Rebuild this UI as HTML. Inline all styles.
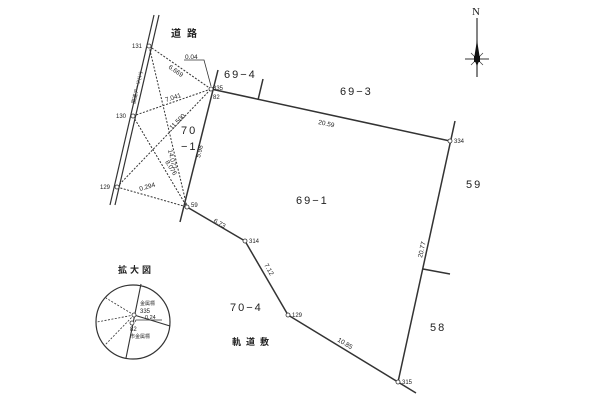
<!DOCTYPE html>
<html><head><meta charset="utf-8"><style>
html,body{margin:0;padding:0;background:#fff;}
svg{display:block;}
text{font-family:"Liberation Sans","Noto Sans CJK JP",sans-serif;fill:#222;}
.s{font-size:6px;}
.m{font-size:11px;letter-spacing:2px;}
.d{font-size:6.5px;}
</style></head><body>
<svg width="600" height="413" viewBox="0 0 600 413" xmlns="http://www.w3.org/2000/svg">
<g stroke="#333" fill="none">
<line x1="154" y1="15" x2="110" y2="205" stroke-width="1.2"/>
<line x1="159" y1="15" x2="115" y2="205" stroke-width="1.2"/>
<g stroke-dasharray="2,1.5" stroke-width="1">
<line x1="149" y1="46" x2="211" y2="89"/>
<line x1="133" y1="116" x2="211" y2="89"/>
<line x1="117" y1="187" x2="211" y2="89"/>
<line x1="149" y1="46" x2="187" y2="207"/>
<line x1="133" y1="116" x2="187" y2="207"/>
<line x1="117" y1="187" x2="187" y2="207"/>
</g>
<polyline points="184,60 204,60 211,86" stroke-width="0.8"/>
<g stroke-width="1.5">
<line x1="180" y1="222" x2="218" y2="70"/>
<line x1="211" y1="89" x2="450" y2="141"/>
<line x1="455" y1="121" x2="398" y2="382"/>
<line x1="416" y1="393" x2="288" y2="315"/>
<line x1="288" y1="315" x2="245" y2="241"/>
<line x1="245" y1="241" x2="187" y2="207"/>
<line x1="258" y1="100" x2="263" y2="79"/>
<line x1="423" y1="269" x2="450" y2="274"/>
</g>
<g fill="#fff" stroke-width="0.8">
<circle cx="149" cy="46" r="2"/><circle cx="133" cy="116" r="2"/><circle cx="117" cy="187" r="2"/>
<circle cx="211" cy="89" r="2"/><circle cx="187" cy="207" r="2"/><circle cx="245" cy="241" r="2"/>
<circle cx="288" cy="315" r="2"/><circle cx="398" cy="382" r="2"/><circle cx="450" cy="141" r="2"/>
</g>
<circle cx="133" cy="322" r="37" stroke-width="1.2"/>
<line x1="141" y1="284" x2="126" y2="358" stroke-width="1.1"/>
<line x1="134" y1="315" x2="170" y2="326" stroke-width="1.1"/>
<g stroke-dasharray="2,1.5" stroke-width="0.8">
<line x1="134" y1="315" x2="106" y2="298"/>
<line x1="134" y1="315" x2="97" y2="322"/>
<line x1="134" y1="315" x2="105" y2="345"/>
</g>
<polyline points="135,322 136,320 162,320" stroke-width="0.8"/>
<circle cx="134" cy="315" r="2" fill="#fff" stroke-width="0.8"/>
<circle cx="132" cy="323" r="2" fill="#fff" stroke-width="0.8"/>
<line x1="477" y1="18" x2="477" y2="77" stroke-width="1.2"/>
<line x1="465" y1="59" x2="489" y2="59" stroke-width="1"/>
<line x1="471" y1="53" x2="483" y2="65" stroke-width="0.6"/>
<line x1="483" y1="53" x2="471" y2="65" stroke-width="0.6"/>
</g>
<polygon points="477,40 480,59 477,66 474,59" fill="#111"/>
<rect x="474" y="56" width="6" height="6" fill="#111"/>
<text x="472" y="15" style="font-family:'Liberation Serif',serif;font-size:11px">N</text>
<text class="s" x="132" y="48">131</text>
<text class="s" x="116" y="118">130</text>
<text class="s" x="100" y="189">129</text>
<text class="s" x="213" y="90">335</text>
<text class="s" x="213" y="99">82</text>
<text class="s" x="191" y="207">59</text>
<text class="s" x="249" y="243">314</text>
<text class="s" x="292" y="317">129</text>
<text class="s" x="402" y="384">315</text>
<text class="s" x="454" y="143">334</text>
<text class="d" x="185" y="59">0.04</text>
<text class="d" transform="translate(168,68) rotate(35)">6.669</text>
<text class="d" transform="translate(166,102) rotate(-18)">7.041</text>
<text class="d" transform="translate(172,130) rotate(-45)">11.500</text>
<text class="d" transform="translate(165,162) rotate(58)">8.076</text>
<text class="d" transform="translate(168,150) rotate(77)">14.077</text>
<text class="d" transform="translate(140,191) rotate(-16)">0.294</text>
<text class="d" transform="translate(200,158) rotate(-76)">5.98</text>
<text class="d" x="318" y="124" transform="rotate(12,318,124)">20.59</text>
<text class="d" transform="translate(213,222) rotate(30)">6.73</text>
<text class="d" transform="translate(264,265) rotate(60)">7.12</text>
<text class="d" transform="translate(337,341) rotate(31)">10.85</text>
<text class="d" transform="translate(422,258) rotate(-77)">20.77</text>
<text class="d" x="145" y="319" style="font-size:5.5px">0.24</text>
<text class="m" x="224" y="78">69−4</text>
<text class="m" x="340" y="95">69−3</text>
<text class="m" x="296" y="204">69−1</text>
<text class="m" x="466" y="188">59</text>
<text class="m" x="430" y="331">58</text>
<text class="m" x="230" y="311">70−4</text>
<text class="m" x="181" y="134">70</text>
<text class="m" x="181" y="150">−1</text>
<text style="font-size:10px;font-weight:bold;letter-spacing:6px" x="171" y="37">道路</text>
<text style="font-size:9px;font-weight:bold;letter-spacing:5px" x="232" y="345">軌道敷</text>
<text style="font-size:9px;font-weight:bold;letter-spacing:3px" x="118" y="273">拡大図</text>
<text style="font-size:5px" x="140" y="305">金属標</text>
<text class="s" x="140" y="313">335</text>
<text class="s" x="130" y="331">82</text>
<text style="font-size:5px" x="130" y="338">市金属標</text>
<text style="font-size:5px" transform="translate(135,104) rotate(-77)">国道アーツ(い)</text>
</svg>
</body></html>
